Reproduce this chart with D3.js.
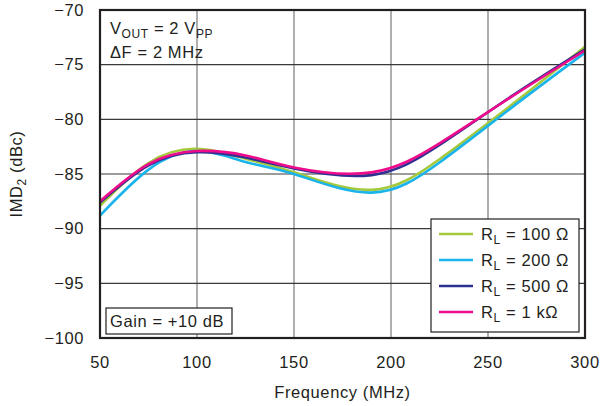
<!DOCTYPE html>
<html>
<head>
<meta charset="utf-8">
<script src="https://cdn.jsdelivr.net/npm/d3@7"></script>
<style>
  body { margin: 0; background: #fff; }
  text { font-family: "Liberation Sans", Arial, sans-serif; fill: #231f20; letter-spacing: 0.6px; }
</style>
</head>
<body>
<script>
// frequencies (MHz) and IMD2 readings (dBc)
var freq = [50, 75, 100, 125, 150, 190, 225, 262, 300];
var rl100 = [-87.9, -84.0, -82.7, -83.6, -84.85, -86.45, -83.65, -78.7, -73.35];
var rl200 = [-88.8, -84.6, -82.9, -83.9, -85.0, -86.7, -83.95, -78.95, -73.9];
var rl500 = [-87.6, -84.2, -83.0, -83.5, -84.5, -85.1, -82.35, -77.9, -73.6];
var rl1k = [-87.5, -84.1, -82.9, -83.3, -84.4, -84.85, -82.2, -77.95, -73.7];

var xTicks = [50, 100, 150, 200, 250, 300];
var yTicks = [-70, -75, -80, -85, -90, -95, -100];

var seriesNames = ["100 Ω", "200 Ω", "500 Ω", "1 kΩ"];
var seriesColors = ["#a4c93b", "#1ab3ea", "#2e3192", "#ec0c8c"];
var seriesValues = [rl100, rl200, rl500, rl1k];

var width = 601, height = 406;
var margin = {left: 100, right: 16, top: 10, bottom: 68};
var fs = 16.5, sub = 12;

var svg = d3.select("body").append("svg")
    .attr("width", width)
    .attr("height", height);

var x = d3.scaleLinear().domain([50, 300]).range([margin.left, width - margin.right]);
var y = d3.scaleLinear().domain([-100, -70]).range([height - margin.bottom, margin.top]);

// grid
svg.append("g").selectAll("line").data(xTicks.slice(1, -1)).enter().append("line")
    .attr("x1", d => x(d)).attr("x2", d => x(d))
    .attr("y1", y(-70)).attr("y2", y(-100))
    .attr("stroke", "#7a7a7a").attr("stroke-width", 1.2);
svg.append("g").selectAll("line").data(yTicks.slice(1, -1)).enter().append("line")
    .attr("x1", x(50)).attr("x2", x(300))
    .attr("y1", d => y(d)).attr("y2", d => y(d))
    .attr("stroke", "#3a3a3a").attr("stroke-width", 1.2);

// tick labels
var fmt = d => (d < 0 ? "\u2212" + Math.abs(d) : "" + d);
svg.append("g").selectAll("text").data(yTicks).enter().append("text")
    .attr("x", 84).attr("y", d => y(d)).attr("dy", "0.35em")
    .attr("text-anchor", "end").attr("font-size", fs)
    .text(fmt);
svg.append("g").selectAll("text").data(xTicks).enter().append("text")
    .attr("x", d => x(d)).attr("y", 362).attr("dy", "0.35em")
    .attr("text-anchor", "middle").attr("font-size", fs)
    .text(d => d);

// axis titles
svg.append("text")
    .attr("x", x(175)).attr("y", 392).attr("dy", "0.35em")
    .attr("text-anchor", "middle").attr("font-size", fs)
    .text("Frequency (MHz)");
var yt = svg.append("text")
    .attr("transform", "translate(22," + y(-85) + ") rotate(-90)")
    .attr("text-anchor", "middle").attr("font-size", fs);
yt.append("tspan").text("IMD");
yt.append("tspan").attr("font-size", sub).attr("dy", 4).text("2");
yt.append("tspan").attr("dy", -4).text(" (dBc)");

// curves
var line = d3.line()
    .x((d, i) => x(freq[i]))
    .y(d => y(d))
    .curve(d3.curveNatural);

svg.append("g").selectAll("path").data(seriesValues).enter().append("path")
    .attr("d", d => line(d))
    .attr("fill", "none")
    .attr("stroke", (d, i) => seriesColors[i])
    .attr("stroke-width", 2.6);

// frame
svg.append("rect")
    .attr("x", x(50)).attr("y", y(-70))
    .attr("width", x(300) - x(50)).attr("height", y(-100) - y(-70))
    .attr("fill", "none").attr("stroke", "#231f20").attr("stroke-width", 2.2);

// conditions
var t1 = svg.append("text").attr("x", 110).attr("y", 34).attr("font-size", fs);
t1.append("tspan").text("V");
t1.append("tspan").attr("font-size", sub).attr("dy", 4).text("OUT");
t1.append("tspan").attr("dy", -4).text(" = 2 V");
t1.append("tspan").attr("font-size", sub).attr("dy", 4).text("PP");
svg.append("text").attr("x", 110).attr("y", 58).attr("font-size", fs).text("\u0394F = 2 MHz");

// gain box
svg.append("rect")
    .attr("x", 106).attr("y", 308).attr("width", 126).attr("height", 26)
    .attr("fill", "#fff").attr("stroke", "#231f20").attr("stroke-width", 1.2);
svg.append("text").attr("x", 110).attr("y", 327).attr("font-size", fs).text("Gain = +10 dB");

// legend
var lg = svg.append("g");
lg.append("rect")
    .attr("x", 431).attr("y", 219).attr("width", 148).attr("height", 113)
    .attr("fill", "#fff").attr("stroke", "#231f20").attr("stroke-width", 1.2);
var items = lg.selectAll("g.item").data(seriesNames).enter().append("g")
    .attr("class", "item")
    .attr("transform", (d, i) => "translate(0," + (234 + i * 26) + ")");
items.append("line")
    .attr("x1", 439).attr("x2", 473)
    .attr("stroke", (d, i) => seriesColors[i]).attr("stroke-width", 2.6);
var lt = items.append("text").attr("x", 481).attr("dy", "0.35em").attr("font-size", fs);
lt.append("tspan").text("R");
lt.append("tspan").attr("font-size", sub).attr("dy", 4).text("L");
lt.append("tspan").attr("dy", -4).text(d => " = " + d);
</script>
</body>
</html>
